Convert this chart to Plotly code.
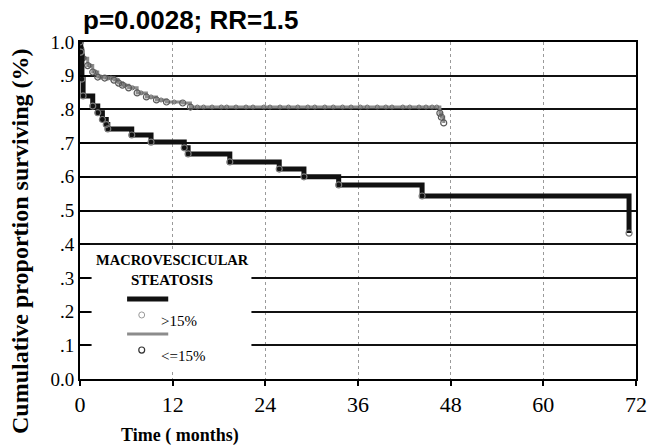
import numpy as np
import plotly.graph_objects as go

# ---- data ----
months_ticks = [0, 12, 24, 36, 48, 60, 72]
surv_ticks = [0.0, 0.1, 0.2, 0.3, 0.4, 0.5, 0.6, 0.7, 0.8, 0.9, 1.0]
surv_ticktext = ["0.0", ".1", ".2", ".3", ".4", ".5", ".6", ".7", ".8", ".9", "1.0"]

# Macrovesicular steatosis > 15%
high_t = [0, 0.1, 0.25, 0.4, 1.65, 2.3, 2.9, 3.4, 3.6, 6.7, 9.2, 13.5, 14.0,
          19.4, 25.8, 29.0, 33.5, 44.3, 71.1]
high_s = [1.0, 0.97, 0.89, 0.84, 0.81, 0.79, 0.77, 0.755, 0.742, 0.724, 0.703,
          0.686, 0.668, 0.644, 0.623, 0.600, 0.576, 0.543, 0.433]

# Macrovesicular steatosis <= 15%
low_t = [0, 0.1, 0.2, 0.3, 1.0, 1.65, 2.3, 3.2, 4.4, 5.0, 5.5, 6.3, 7.4, 8.6,
         9.9, 11.2, 13.3, 14.3, 46.6, 46.8, 47.1]
low_s = [1.0, 0.98, 0.96, 0.952, 0.93, 0.911, 0.896, 0.893, 0.887, 0.878, 0.872,
         0.864, 0.849, 0.837, 0.828, 0.822, 0.819, 0.807, 0.789, 0.777, 0.760]
low_censored = [0.6, 1.3, 2.0, 2.7, 3.6, 4.0, 4.8, 5.8, 6.8, 7.9, 9.2, 10.5, 12.2,
                15.2, 16.0, 17.1, 18.3, 19.0, 20.2, 21.5, 22.4, 23.8, 24.6, 25.9,
                27.0, 28.2, 29.5, 30.4, 31.7, 32.8, 34.0, 35.1, 36.3, 37.2, 38.5,
                39.6, 40.4, 41.8, 42.7, 43.9, 44.8, 45.6, 46.2]

title_text = "p=0.0028; RR=1.5"
legend_title = ["MACROVESCICULAR", "STEATOSIS"]
group_labels = [">15%", "<=15%"]

# censored marks lie on the step curve
lt = np.array(low_t)
ls = np.array(low_s)
idx = np.searchsorted(lt, np.array(low_censored), side="right") - 1
low_cens_s = ls[idx]

fig = go.Figure()

fig.add_trace(go.Scatter(
    x=low_t, y=low_s, mode="lines+markers", line=dict(color="#8c8c8c", width=3, shape="hv"),
    marker=dict(symbol="circle-open", size=6, color="#5a5a5a", line=dict(width=1.2)),
    showlegend=False, hoverinfo="skip"))
fig.add_trace(go.Scatter(
    x=low_censored, y=low_cens_s, mode="markers",
    marker=dict(symbol="circle-open", size=4, color="#6a6a6a", line=dict(width=1)),
    showlegend=False, hoverinfo="skip"))
fig.add_trace(go.Scatter(
    x=high_t, y=high_s, mode="lines+markers", line=dict(color="#111111", width=5, shape="hv"),
    marker=dict(symbol="circle-open", size=6, color="#7a7a7a", line=dict(width=1.2)),
    showlegend=False, hoverinfo="skip"))

serif = "Liberation Serif, Times New Roman, serif"

fig.update_layout(
    width=658, height=446,
    margin=dict(l=80, r=11, t=42, b=67),
    paper_bgcolor="white", plot_bgcolor="white",
    showlegend=False,
    xaxis=dict(
        range=[0, 72], tickvals=months_ticks, ticktext=[str(v) for v in months_ticks],
        showgrid=True, gridcolor="#9a9a9a", gridwidth=1, griddash="dot",
        showline=True, linecolor="black", linewidth=2, mirror=True,
        ticks="outside", ticklen=5, tickwidth=2, tickcolor="black",
        tickfont=dict(family=serif, size=22, color="black"),
        zeroline=False, fixedrange=True,
    ),
    yaxis=dict(
        range=[0, 1.0], tickvals=surv_ticks, ticktext=surv_ticktext,
        showgrid=True, gridcolor="#111111", gridwidth=1.5,
        showline=True, linecolor="black", linewidth=2, mirror=True,
        ticks="inside", ticklen=10, tickwidth=2, tickcolor="black",
        tickfont=dict(family=serif, size=19, color="black"),
        zeroline=False, fixedrange=True,
    ),
)

# legend background box hiding the grid
fig.add_shape(type="rect", xref="x", yref="y", x0=1.5, x1=22.2, y0=0.03, y1=0.385,
              fillcolor="white", line=dict(width=0), layer="between")

# legend samples
fig.add_shape(type="line", xref="paper", yref="paper", x0=0.0847, x1=0.1587,
              y0=0.2374, y1=0.2374, line=dict(color="#111111", width=5))
fig.add_shape(type="line", xref="paper", yref="paper", x0=0.0847, x1=0.1587,
              y0=0.1335, y1=0.1335, line=dict(color="#8c8c8c", width=3))
fig.add_shape(type="circle", xref="paper", yref="paper", x0=0.111 - 0.0053, x1=0.111 + 0.0053,
              y0=0.19 - 0.009, y1=0.19 + 0.009, line=dict(color="#9a9a9a", width=1))
fig.add_shape(type="circle", xref="paper", yref="paper", x0=0.111 - 0.0053, x1=0.111 + 0.0053,
              y0=0.086 - 0.009, y1=0.086 + 0.009, line=dict(color="#333333", width=1.2))

ann = []
ann.append(dict(text="<b>%s</b>" % title_text, xref="paper", yref="paper", x=0, y=1.0653,
                xanchor="left", yanchor="middle", xshift=1, showarrow=False,
                font=dict(family="Liberation Sans, Arial, sans-serif", size=26, color="black")))
ann.append(dict(text="<b>Cumulative proportion surviving (%)</b>", xref="paper", yref="paper",
                x=0, y=0.4095, xanchor="center", yanchor="middle", xshift=-60, textangle=-90,
                showarrow=False, font=dict(family=serif, size=24, color="black")))
ann.append(dict(text="<b>Time ( months)</b>", xref="paper", yref="paper", x=0.0705, y=-0.169,
                xanchor="left", yanchor="middle", showarrow=False,
                font=dict(family=serif, size=18, color="black")))
ann.append(dict(text="<b>%s</b>" % legend_title[0], xref="paper", yref="paper", x=0.1667, y=0.353,
                xanchor="center", yanchor="middle", showarrow=False,
                font=dict(family=serif, size=14.5, color="black")))
ann.append(dict(text="<b>%s</b>" % legend_title[1], xref="paper", yref="paper", x=0.165, y=0.294,
                xanchor="center", yanchor="middle", showarrow=False,
                font=dict(family=serif, size=15, color="black")))
ann.append(dict(text=group_labels[0], xref="paper", yref="paper", x=0.1429, y=0.172,
                xanchor="left", yanchor="middle", showarrow=False,
                font=dict(family=serif, size=15, color="black")))
ann.append(dict(text=group_labels[1], xref="paper", yref="paper", x=0.1429, y=0.068,
                xanchor="left", yanchor="middle", showarrow=False,
                font=dict(family=serif, size=15, color="black")))
fig.update_layout(annotations=ann)

fig.write_html("out.html")
